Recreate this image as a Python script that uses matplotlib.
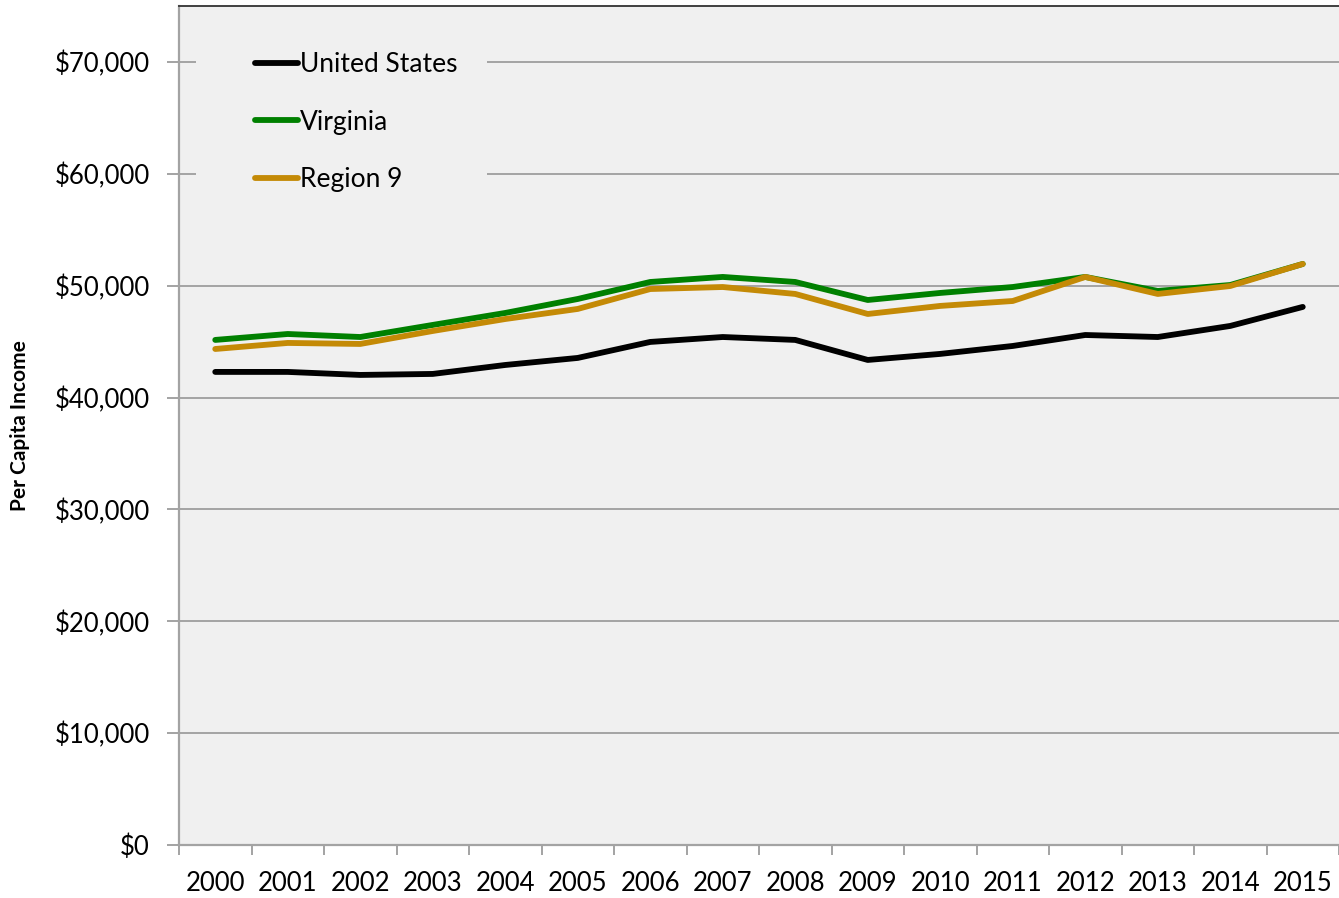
import matplotlib
matplotlib.use("Agg")
import matplotlib.pyplot as plt
from matplotlib.patches import Rectangle
from matplotlib.ticker import FuncFormatter, MultipleLocator

years = [str(y) for y in range(2000, 2016)]
us = [42290, 42290, 42020, 42110, 42910, 43540, 44970, 45410,
      45150, 43360, 43900, 44610, 45590, 45410, 46400, 48100]
virginia = [45150, 45680, 45410, 46490, 47560, 48810, 50330, 50780,
            50330, 48720, 49350, 49880, 50780, 49530, 50060, 51940]
region9 = [44340, 44880, 44790, 45950, 47020, 47920, 49700, 49880,
           49260, 47470, 48190, 48630, 50780, 49260, 49970, 51940]

plt.rcParams["font.family"] = ["Lato", "DejaVu Sans"]
BG, GRID = "#f0f0f0", "#a3a3a3"
W, H = 1339, 898

fig = plt.figure(figsize=(W / 100, H / 100), dpi=100, facecolor="white")
ax = fig.add_axes([179 / W, 1 - 845 / H, 1 - 179 / W, (845 - 6) / H])
ax.set_facecolor(BG)

x = list(range(len(years)))
for vals, col, lab in ((us, "#000000", "United States"),
                       (virginia, "#008000", "Virginia"),
                       (region9, "#c48a06", "Region 9")):
    ax.plot(x, vals, color=col, lw=4.2, solid_capstyle="round",
            solid_joinstyle="round", label=lab, zorder=3)

ax.set_xlim(-0.5, len(years) - 0.5)
ax.set_ylim(0, 75000)
ax.yaxis.set_major_locator(MultipleLocator(10000))
ax.yaxis.set_major_formatter(FuncFormatter(lambda v, p: f"${v:,.0f}"))
ax.grid(axis="y", color=GRID, lw=1.4, zorder=1)
ax.set_axisbelow(True)

# legend area hides the gridlines behind it
ax.add_patch(Rectangle(((196 - 179) / 1160, (845 - 215) / 839),
                       (487 - 196) / 1160, 190 / 839,
                       transform=ax.transAxes, facecolor=BG,
                       edgecolor="none", zorder=1.5))

ax.set_xticks(x)
ax.set_xticklabels(years)
ax.set_xticks([i - 0.5 for i in range(len(years) + 1)], minor=True)
ax.tick_params(axis="x", which="major", length=0, pad=19, labelsize=18.5)
ax.tick_params(axis="x", which="minor", length=7, width=1.4, color=GRID)
ax.tick_params(axis="y", length=9, width=1.4, color=GRID, pad=12,
               labelsize=18.5)

for side in ("left", "bottom"):
    ax.spines[side].set_color(GRID)
    ax.spines[side].set_linewidth(1.6)
ax.spines["top"].set_color("#404040")
ax.spines["top"].set_linewidth(1.4)
ax.spines["right"].set_visible(False)

ax.set_ylabel("Per Capita Income", fontsize=15, fontweight="bold",
              labelpad=18)

ax.legend(loc="upper left", bbox_to_anchor=((255 - 179) / 1160, (845 - 52) / 839),
          fontsize=19, frameon=False, handlelength=1.63, handletextpad=0.08,
          labelspacing=1.24, borderpad=0, borderaxespad=0)

fig.savefig("out.png", dpi=100, facecolor="white")
